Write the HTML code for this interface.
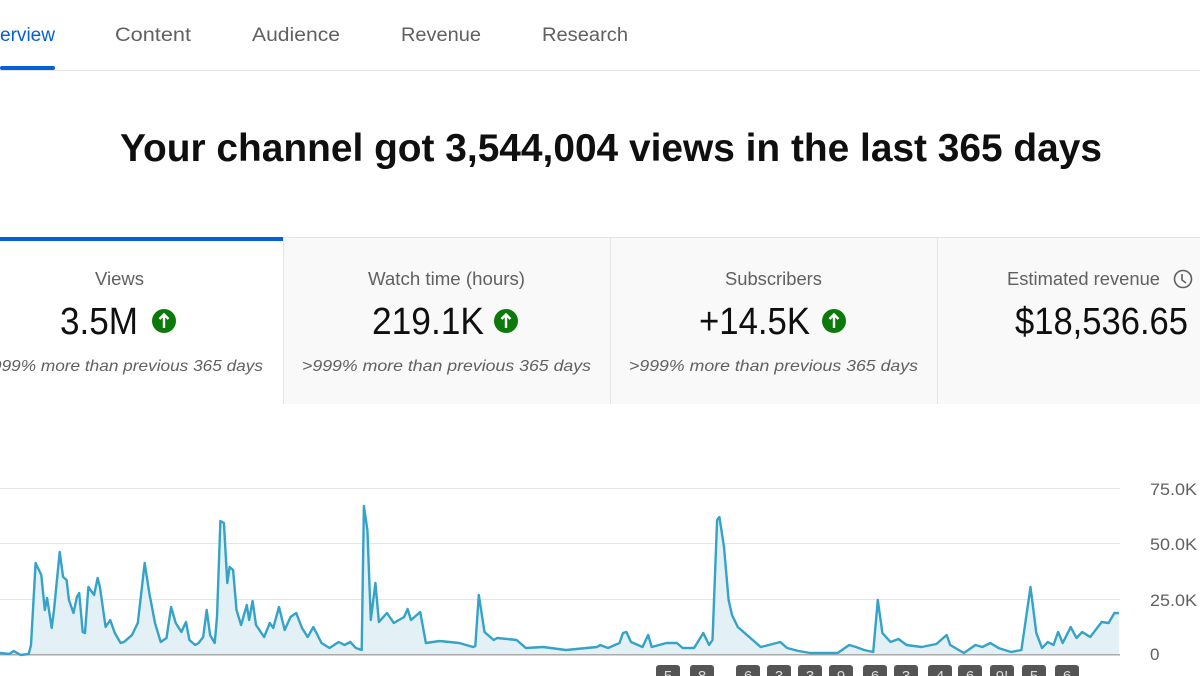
<!DOCTYPE html>
<html><head><meta charset="utf-8"><style>
html,body{margin:0;padding:0;background:#fff;width:1200px;height:676px;overflow:hidden}
svg{display:block}
text{font-family:"Liberation Sans",sans-serif}
</style></head><body>
<svg id="s" width="1200" height="676" viewBox="0 0 1200 676" xmlns="http://www.w3.org/2000/svg">
<rect width="1200" height="676" fill="#fff"/>
<g font-size="19">
<text x="0" y="41" fill="#065fd4" textLength="55" lengthAdjust="spacingAndGlyphs">erview</text>
<text x="115" y="41" fill="#606060" textLength="76" lengthAdjust="spacingAndGlyphs">Content</text>
<text x="252" y="41" fill="#606060" textLength="88" lengthAdjust="spacingAndGlyphs">Audience</text>
<text x="401" y="41" fill="#606060" textLength="80" lengthAdjust="spacingAndGlyphs">Revenue</text>
<text x="542" y="41" fill="#606060" textLength="86" lengthAdjust="spacingAndGlyphs">Research</text>
</g>
<rect x="0" y="66" width="55" height="4" rx="2" fill="#065fd4"/>
<rect x="0" y="70" width="1200" height="1" fill="#e5e5e5"/>
<text x="120" y="161" font-size="39" font-weight="bold" fill="#0f0f0f" textLength="982" lengthAdjust="spacingAndGlyphs">Your channel got 3,544,004 views in the last 365 days</text>
<rect x="283" y="237" width="917" height="167" fill="#f9f9f9"/>
<rect x="0" y="237" width="1200" height="1" fill="#e5e5e5"/>
<rect x="283" y="237" width="1" height="167" fill="#e5e5e5"/>
<rect x="610" y="237" width="1" height="167" fill="#e5e5e5"/>
<rect x="937" y="237" width="1" height="167" fill="#e5e5e5"/>
<rect x="0" y="237" width="283" height="4" fill="#065fd4"/>
<g fill="#606060" font-size="18">
<text x="95" y="285" textLength="49" lengthAdjust="spacingAndGlyphs">Views</text>
<text x="368" y="285" textLength="157" lengthAdjust="spacingAndGlyphs">Watch time (hours)</text>
<text x="725" y="285" textLength="97" lengthAdjust="spacingAndGlyphs">Subscribers</text>
<text x="1007" y="285" textLength="153" lengthAdjust="spacingAndGlyphs">Estimated revenue</text>
</g>
<circle cx="1183" cy="279" r="8.5" fill="none" stroke="#606060" stroke-width="1.6"/>
<path d="M1182 274 L1182 280 L1186 283" fill="none" stroke="#606060" stroke-width="1.6"/>
<g fill="#0f0f0f" font-size="38">
<text x="60" y="334" textLength="78" lengthAdjust="spacingAndGlyphs">3.5M</text>
<text x="372" y="334" textLength="112" lengthAdjust="spacingAndGlyphs">219.1K</text>
<text x="699" y="334" textLength="111" lengthAdjust="spacingAndGlyphs">+14.5K</text>
<text x="1015" y="334" textLength="173" lengthAdjust="spacingAndGlyphs">$18,536.65</text>
</g>
<g id="ups"></g>
<g fill="#606060" font-size="16" font-style="italic">
<text x="-8" y="371" textLength="271" lengthAdjust="spacingAndGlyphs">999% more than previous 365 days</text>
<text x="302" y="371" textLength="289" lengthAdjust="spacingAndGlyphs">&gt;999% more than previous 365 days</text>
<text x="629" y="371" textLength="289" lengthAdjust="spacingAndGlyphs">&gt;999% more than previous 365 days</text>
</g>
<g fill="#e5e5e5">
<rect x="0" y="488" width="1120" height="1"/>
<rect x="0" y="543" width="1120" height="1"/>
<rect x="0" y="599" width="1120" height="1"/>
</g>
<g fill="#606060" font-size="17">
<text x="1150" y="495" textLength="47" lengthAdjust="spacingAndGlyphs">75.0K</text>
<text x="1150" y="550" textLength="47" lengthAdjust="spacingAndGlyphs">50.0K</text>
<text x="1150" y="606" textLength="47" lengthAdjust="spacingAndGlyphs">25.0K</text>
<text x="1150" y="660">0</text>
</g>
<path id="area" fill="#e3f1f7"/>
<rect x="0" y="654" width="1120" height="1.5" fill="#aaaaaa"/>
<polyline id="line" fill="none" stroke="#35a2c7" stroke-width="2.4" stroke-linejoin="round"/>
<g id="badges"></g>
</svg>
<script>
var a=[[0,653],[8,654],[12,651],[18,655],[25,654],[27,645],[31,563],[36,575],[39,610],[41,598],[45,628],[47,610],[52,552],[55,577],[58,580],[60,600],[64,613],[67,597],[69,593],[72,632],[74,633],[77,587],[82,595],[85,578],[87,587],[92,627],[96,620],[100,633],[105,643],[108,642],[115,635],[120,623],[126,563],[130,593],[135,623],[140,642],[145,638],[149,607],[153,623],[158,632],[162,622],[165,640],[170,645],[173,643],[177,637],[180,610],[183,635],[187,643],[189,617],[192,521],[195,523],[198,583],[200,567],[203,570],[206,610],[210,625],[215,605],[217,620],[220,601],[223,625],[230,637],[235,623],[238,628],[243,607],[248,630],[253,617],[258,613],[263,628],[268,637],[273,627],[280,643],[287,648],[295,642],[300,645],[305,642],[310,648],[315,650],[317,506],[320,530],[323,620],[327,583],[330,622],[337,613],[343,623],[352,617],[355,609],[358,620],[366,612],[371,643],[383,641],[400,643],[412,647],[414,646],[417,595],[422,632],[430,640],[433,638],[450,640],[458,648],[473,647],[493,650],[520,647],[523,645]];
var b=[[600,645],[607,648],[617,643],[620,633],[623,632],[627,642],[637,647],[642,635],[645,647],[658,643],[667,643],[672,648],[682,648],[690,633],[695,645],[698,640],[702,520],[704,517],[708,547],[712,600],[715,615],[720,627],[733,640],[740,647],[747,645],[757,642],[763,648],[773,651],[783,653],[807,653],[817,645],[823,647],[830,650],[838,652],[842,600],[846,633],[853,642],[860,639],[867,645],[880,647],[893,644],[902,635],[905,645],[917,653],[927,645],[933,647],[940,643],[947,648],[958,652],[967,650],[975,587],[980,633],[985,648],[990,642],[995,645],[999,632],[1003,643],[1010,627],[1015,638],[1020,632],[1027,637],[1037,622],[1043,623],[1048,613],[1052,613]];
var k=3/2.613,p=[];
a.forEach(function(q){p.push([q[0]*k,q[1]])});
b.forEach(function(q){p.push([600+(q[0]-600)*k,q[1]])});
var s=p.map(function(q){return q[0].toFixed(1)+","+q[1]}).join(" ");
document.getElementById("line").setAttribute("points",s);
document.getElementById("area").setAttribute("d","M"+s.split(" ").join(" L")+" L"+p[p.length-1][0].toFixed(1)+",654 L0,654 Z");
var ns="http://www.w3.org/2000/svg",u=document.getElementById("ups");
[164,506,834].forEach(function(x){
 var c=document.createElementNS(ns,"circle");c.setAttribute("cx",x);c.setAttribute("cy",321);c.setAttribute("r",12);c.setAttribute("fill","#0b7a0b");u.appendChild(c);
 var pa=document.createElementNS(ns,"path");pa.setAttribute("d","M"+x+" 328 L"+x+" 315 M"+(x-4.5)+" 319 L"+x+" 314.5 L"+(x+4.5)+" 319");pa.setAttribute("stroke","#fff");pa.setAttribute("stroke-width","2.4");pa.setAttribute("fill","none");u.appendChild(pa);
});
var g=document.getElementById("badges");
[[656,"5"],[690,"8"],[736,"6"],[767,"3"],[798,"3"],[829,"9"],[863,"6"],[894,"3"],[928,"4"],[958,"6"],[990,"9!"],[1022,"5"],[1055,"6"]].forEach(function(q){
 var r=document.createElementNS(ns,"rect");r.setAttribute("x",q[0]);r.setAttribute("y",665);r.setAttribute("width",24);r.setAttribute("height",20);r.setAttribute("rx",3);r.setAttribute("fill","#555");g.appendChild(r);
 var t=document.createElementNS(ns,"text");t.setAttribute("x",q[0]+12);t.setAttribute("y",681);t.setAttribute("text-anchor","middle");t.setAttribute("font-size","15");t.setAttribute("fill","#ddd");t.textContent=q[1];g.appendChild(t);
});
</script>
</body></html>
